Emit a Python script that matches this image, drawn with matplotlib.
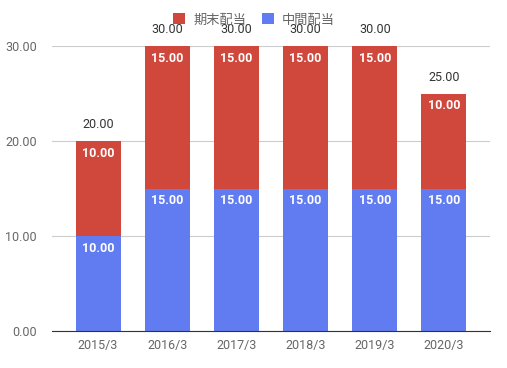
import matplotlib
matplotlib.use("Agg")
import matplotlib.pyplot as plt
import numpy as np

plt.rcParams['font.family'] = ['Roboto', 'Noto Sans CJK JP', 'DejaVu Sans']

# data
years = ['2015/3', '2016/3', '2017/3', '2018/3', '2019/3', '2020/3']
interim = [10.0, 15.0, 15.0, 15.0, 15.0, 15.0]   # 中間配当
final = [10.0, 15.0, 15.0, 15.0, 15.0, 10.0]     # 期末配当
yticks = [0, 10, 20, 30]

red = '#d0473b'
blue = '#617cf1'
grey = '#666666'

fig = plt.figure(figsize=(5.07, 3.68), dpi=100)
ax = fig.add_axes([52/507, 37/368, 438/507, (331-46)/368])

x = np.arange(len(years))
w = 0.65
b1 = ax.bar(x, interim, w, color=blue, label='中間配当', zorder=3)
b2 = ax.bar(x, final, w, bottom=interim, color=red, label='期末配当', zorder=3)

tot = np.array(interim) + np.array(final)
for i in range(len(years)):
    ax.annotate('%.2f' % interim[i], (x[i], interim[i]), xytext=(0, -4),
                textcoords='offset points', ha='center', va='top',
                color='white', fontsize=9, fontweight='bold', zorder=4)
    ax.annotate('%.2f' % final[i], (x[i], tot[i]), xytext=(0, -4),
                textcoords='offset points', ha='center', va='top',
                color='white', fontsize=9, fontweight='bold', zorder=4)
    ax.annotate('%.2f' % tot[i], (x[i], tot[i]), xytext=(0, 7),
                textcoords='offset points', ha='center', va='bottom',
                color='#333333', fontsize=9, zorder=4)

ax.set_xlim(-0.665, 5.665)
ax.set_ylim(0, 30)
ax.set_yticks(yticks)
ax.set_yticklabels(['%.2f' % v for v in yticks])
ax.set_xticks(x)
ax.set_xticklabels(years)
ax.tick_params(length=0, colors=grey, labelsize=9)
ax.tick_params(axis='y', pad=11)
ax.tick_params(axis='x', pad=6)
ax.grid(axis='y', color='#cccccc', lw=0.8, zorder=0)
for s in ['top', 'right', 'left']:
    ax.spines[s].set_visible(False)
ax.spines['bottom'].set_color('#333333')
ax.spines['bottom'].set_zorder(5)

leg = fig.legend(handles=[b2, b1], loc='center', bbox_to_anchor=(254/507, 1 - 20/368),
                 ncol=2, frameon=False, fontsize=9.5, handlelength=0.9, handleheight=0.9,
                 handletextpad=0.6, columnspacing=1.2)
for t in leg.get_texts():
    t.set_color(grey)

fig.savefig('out.png', dpi=100)
